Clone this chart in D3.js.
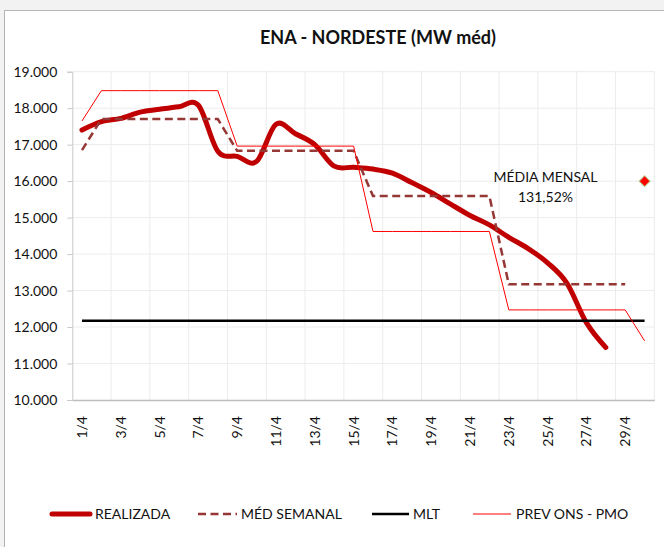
<!DOCTYPE html>
<html><head><meta charset="utf-8">
<script src="https://cdn.jsdelivr.net/npm/d3@7"></script>
<style>html,body{margin:0;padding:0;background:#f2f2f2;overflow:hidden;} svg{display:block;font-family:Lato, sans-serif;}</style>
</head><body><svg id="c" width="664" height="547"></svg>
<script>
const categories = ["1/4","2/4","3/4","4/4","5/4","6/4","7/4","8/4","9/4","10/4","11/4","12/4","13/4","14/4","15/4","16/4","17/4","18/4","19/4","20/4","21/4","22/4","23/4","24/4","25/4","26/4","27/4","28/4","29/4","30/4"];
const xTickLabels = ["1/4","3/4","5/4","7/4","9/4","11/4","13/4","15/4","17/4","19/4","21/4","23/4","25/4","27/4","29/4"];
const yTicks = [10000,11000,12000,13000,14000,15000,16000,17000,18000,19000];
const realizada = [17400,17630,17720,17890,17970,18040,18080,16820,16680,16540,17560,17300,17000,16410,16380,16330,16220,15960,15690,15370,15060,14800,14460,14150,13760,13200,12120,11440,null,null];
const medSemanal = [16850,17700,17700,17700,17700,17700,17700,17700,16830,16830,16830,16830,16830,16830,16830,15590,15590,15590,15590,15590,15590,15590,13170,13170,13170,13170,13170,13170,13170,null];
const mlt = [12170,12170,12170,12170,12170,12170,12170,12170,12170,12170,12170,12170,12170,12170,12170,12170,12170,12170,12170,12170,12170,12170,12170,12170,12170,12170,12170,12170,12170,12170];
const prevOns = [17650,18480,18480,18480,18480,18480,18480,18480,16960,16960,16960,16960,16960,16960,16960,14620,14620,14620,14620,14620,14620,14620,12470,12470,12470,12470,12470,12470,12470,11620];
const mediaMensalPoint = {cat:"30/4", value:16000};
const mediaMensalText = ["MÉDIA MENSAL","131,52%"];
const title = "ENA - NORDESTE (MW méd)";
const legendNames = ["REALIZADA","MÉD SEMANAL","MLT","PREV ONS - PMO"];

const svg = d3.select("#c");
// chart frame
svg.append("rect").attr("x",4.5).attr("y",10.5).attr("width",720).attr("height",600)
  .attr("fill","#fff").attr("stroke","#b4b4b4").attr("stroke-width",1);

const L=72.3, R=654.3, T=71.7, B=400;
const x = d3.scaleBand().domain(categories).range([L,R]).padding(0);
const cx = c => x(c)+x.bandwidth()/2;
const y = d3.scaleLinear().domain([10000,19000]).range([B,T]);
const fmt = d3.formatLocale({decimal:",",thousands:".",grouping:[3],currency:["",""]}).format(",");

// gridlines
const g = svg.append("g");
g.selectAll("line.h").data(yTicks.slice(1)).join("line")
  .attr("x1",L).attr("x2",R).attr("y1",d=>y(d)).attr("y2",d=>y(d))
  .attr("stroke","#ececec").attr("stroke-width",1);
const vb = categories.map((c,i)=>i).filter(i=>i%2==0 && i>0).map(i=>x(categories[i]));
vb.push(R);
g.selectAll("line.v").data(vb).join("line")
  .attr("x1",d=>d).attr("x2",d=>d).attr("y1",T).attr("y2",B)
  .attr("stroke","#ececec").attr("stroke-width",1);

// y axis
const yAxis = d3.axisLeft(y).tickValues(yTicks).tickFormat(fmt).tickSize(5).tickPadding(10);
const ya = svg.append("g").attr("transform",`translate(${L},0)`).call(yAxis);
ya.select(".domain").attr("stroke","#c8c8c8");
ya.selectAll(".tick line").attr("stroke","#c8c8c8");
ya.selectAll(".tick text").attr("font-family","Lato").attr("font-size",14).attr("fill","#111");

// x axis
const xAxis = d3.axisBottom(x).tickValues(xTickLabels).tickSize(0).tickFormat(d=>d);
const xa = svg.append("g").attr("transform",`translate(0,${B})`).call(xAxis);
xa.select(".domain").attr("stroke","#bdbdbd").attr("stroke-width",1.5);
xa.selectAll(".tick text").attr("font-family","Lato").attr("font-size",14).attr("fill","#111")
  .attr("text-anchor","end").attr("transform","translate(0,16) rotate(-90)")
  .attr("x",0).attr("y",0).attr("dy","0.36em");

// series
const mk = (curve)=>d3.line().defined(d=>d!=null).x((d,i)=>cx(categories[i])).y(d=>y(d)).curve(curve);
svg.append("path").datum(realizada).attr("d",mk(d3.curveCardinal.tension(0)))
  .attr("fill","none").attr("stroke","#c00000").attr("stroke-width",5).attr("stroke-linecap","round").attr("stroke-linejoin","round");
svg.append("path").datum(medSemanal).attr("d",mk(d3.curveLinear))
  .attr("fill","none").attr("stroke","#953735").attr("stroke-width",2.5).attr("stroke-dasharray","8,4.5");
svg.append("path").datum(mlt).attr("d",mk(d3.curveLinear))
  .attr("fill","none").attr("stroke","#000").attr("stroke-width",2.5);
svg.append("path").datum(prevOns).attr("d",mk(d3.curveLinear))
  .attr("fill","none").attr("stroke","#ff0000").attr("stroke-width",1);

// media mensal marker
svg.append("path").attr("d",d3.symbol().type(d3.symbolSquare).size(60)())
  .attr("transform",`translate(${cx(mediaMensalPoint.cat)},${y(mediaMensalPoint.value)}) rotate(45)`)
  .attr("fill","#ff0000").attr("stroke","#b5c98a").attr("stroke-width",1);

// annotation
svg.append("g").selectAll("text").data(mediaMensalText).join("text")
  .attr("x",545.5).attr("y",(d,i)=>181.5+i*20).attr("text-anchor","middle")
  .attr("font-size",14).attr("fill","#111").text(d=>d);

// title
svg.append("text").attr("x",378).attr("y",44).attr("text-anchor","middle")
  .attr("font-weight","bold").attr("font-size",18).attr("fill","#111").text(title);

// legend
const lg = svg.append("g");
const ly = 514;
const items = [
  {name:legendNames[0], x1:52, x2:90, stroke:"#c00000", w:5, dash:null, cap:"round", tx:95},
  {name:legendNames[1], x1:198, x2:237, stroke:"#953735", w:2.5, dash:"8,4.5", cap:"butt", tx:241},
  {name:legendNames[2], x1:372, x2:409, stroke:"#000", w:2.5, dash:null, cap:"butt", tx:413},
  {name:legendNames[3], x1:473, x2:511, stroke:"#ff0000", w:1, dash:null, cap:"butt", tx:516}
];
items.forEach(it=>{
  lg.append("line").attr("x1",it.x1).attr("x2",it.x2).attr("y1",ly).attr("y2",ly)
    .attr("stroke",it.stroke).attr("stroke-width",it.w).attr("stroke-dasharray",it.dash).attr("stroke-linecap",it.cap);
  lg.append("text").attr("x",it.tx).attr("y",ly).attr("dy","0.36em").attr("font-size",14).attr("fill","#111").text(it.name);
});
</script></body></html>
